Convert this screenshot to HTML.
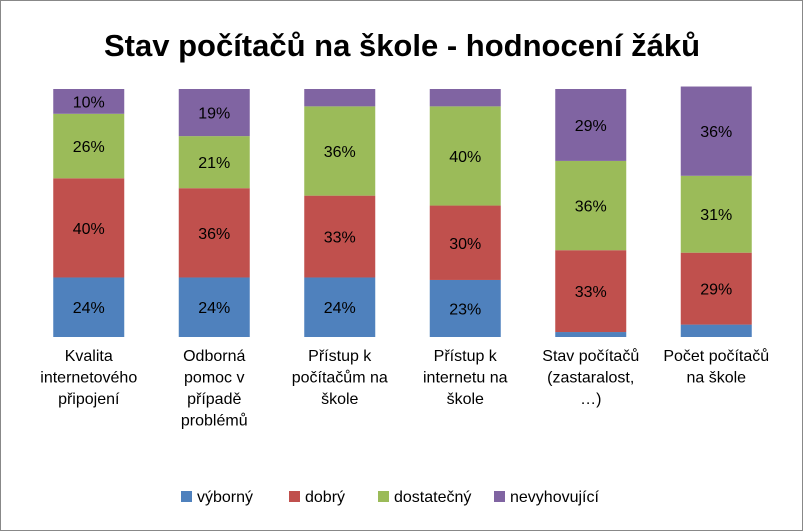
<!DOCTYPE html>
<html><head><meta charset="utf-8"><style>
body{margin:0;background:#fff;}
svg{display:block;font-family:"Liberation Sans",Calibri,sans-serif;}
</style></head><body>
<svg id="chart" width="804" height="532">
<rect x="0.5" y="0.5" width="802" height="530" fill="#fff" stroke="#888"/>
<text x="402" y="56" text-anchor="middle" font-size="31" font-weight="bold" fill="#000">Stav počítačů na škole - hodnocení žáků</text>
<g id="bars"></g><g id="cats"></g><g id="legend"></g>
</svg>
<script>
const categories=[["Kvalita","internetového","připojení"],["Odborná","pomoc v","případě","problémů"],["Přístup k","počítačům na","škole"],["Přístup k","internetu na","škole"],["Stav počítačů","(zastaralost,","…)"],["Počet počítačů","na škole"]];
const seriesNames=["výborný","dobrý","dostatečný","nevyhovující"];
const vyborny=[24,24,24,23,2,5];
const dobry=[40,36,33,30,33,29];
const dostatecny=[26,21,36,40,36,31];
const nevyhovujici=[10,19,7,7,29,36];
const colors=["#4F81BD","#C0504D","#9BBB59","#8064A2"];
const series=[vyborny,dobry,dostatecny,nevyhovujici];
const NS="http://www.w3.org/2000/svg";
const plotL=26,plotR=779,plotT=89,plotB=337;
const band=(plotR-plotL)/categories.length,barW=71;
const x=i=>plotL+band*i+band/2;
const y=p=>plotB-(plotB-plotT)*p/100;
function mk(tag,attrs,parent){const e=document.createElementNS(NS,tag);for(const k in attrs)e.setAttribute(k,attrs[k]);parent.appendChild(e);return e;}
const gb=document.getElementById("bars"),gc=document.getElementById("cats"),gl=document.getElementById("legend");
categories.forEach((c,i)=>{
  let cum=0;
  series.forEach((s,j)=>{
    const v=s[i];
    const r=mk("rect",{x:x(i)-barW/2,y:y(cum+v),width:barW,height:y(cum)-y(cum+v),fill:colors[j]},gb);
    
    
    if(v>=10){
      const t=mk("text",{x:x(i),y:(y(cum)+y(cum+v))/2+6,"text-anchor":"middle","font-size":"16",fill:"#000"},gb);
      t.textContent=v+"%";
      
      
    }
    cum+=v;
  });
  c.forEach((line,k)=>{
    const t=mk("text",{x:x(i),y:361+k*21.5,"text-anchor":"middle","font-size":"16",fill:"#000"},gc);
    t.textContent=line;
    
    
  });
});
const lx=[181,289,378,494];
seriesNames.forEach((n,j)=>{
  const r=mk("rect",{x:lx[j],y:491,width:11,height:11,fill:colors[j]},gl);
  
  
  const t=mk("text",{x:lx[j]+16,y:502,"font-size":"16",fill:"#000"},gl);
  t.textContent=n;
  
  
});
</script>
</body></html>
